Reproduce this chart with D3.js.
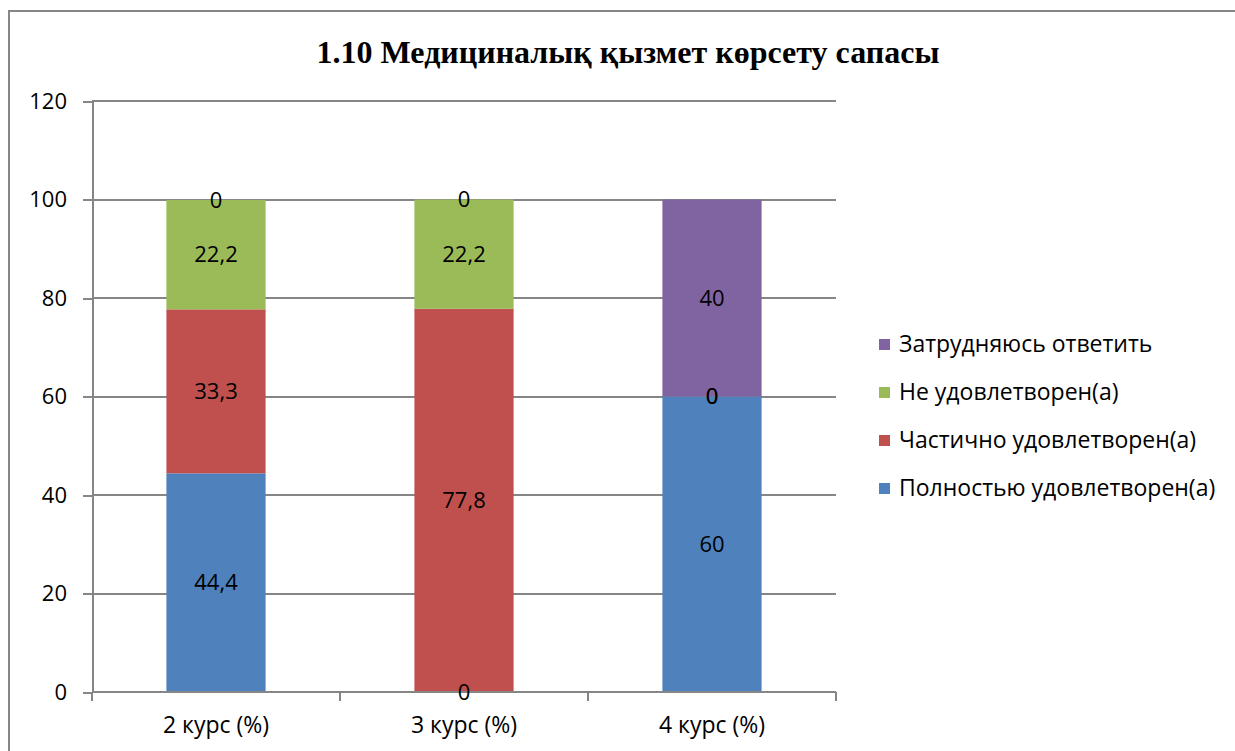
<!DOCTYPE html>
<html>
<head>
<meta charset="utf-8">
<title>1.10 Медициналық қызмет көрсету сапасы</title>
<style>
html, body {
  margin: 0;
  padding: 0;
  background: #fff;
}
.grid line, .axis line, .axis path {
  stroke: #868686;
  stroke-width: 2px;
  shape-rendering: crispEdges;
}
text {
  font-family: 'Open Sans', sans-serif;
  fill: #000;
}
.title {
  font-family: 'Liberation Serif', 'Times New Roman', serif;
  font-weight: bold;
}
</style>
<script src="https://d3js.org/d3.v7.min.js"></script>
</head>
<body>
<svg width="1235" height="751"></svg>
<script>

var categories = ["2 курс (%)", "3 курс (%)", "4 курс (%)"];
var seriesNames = ["Полностью удовлетворен(а)", "Частично удовлетворен(а)", "Не удовлетворен(а)", "Затрудняюсь ответить"];
var seriesColors = ["#4f81bd", "#c0504d", "#9bbb59", "#8064a2"];
var fullySatisfied = [44.4, 0, 60];
var partlySatisfied = [33.3, 77.8, 0];
var notSatisfied = [22.2, 22.2, 0];
var hardToSay = [0, 0, 40];
var yTicks = [0, 20, 40, 60, 80, 100, 120];

var svg = d3.select("svg"),
    width = +svg.attr("width"),
    height = +svg.attr("height");

var margin = {left: 92, right: 836, top: 101, bottom: 692};

// chart frame (runs off the right and bottom edges)
svg.append("rect")
    .attr("x", 9).attr("y", 11)
    .attr("width", 1300).attr("height", 800)
    .attr("fill", "none")
    .attr("stroke", "#868686")
    .attr("stroke-width", 2);

svg.append("text")
    .attr("class", "title")
    .attr("x", 628).attr("y", 63)
    .attr("text-anchor", "middle")
    .style("font-size", "32px")
    .text("1.10 Медициналық қызмет көрсету сапасы");

var rows = categories.map(function(c, i) {
  return {cat: c, s0: fullySatisfied[i], s1: partlySatisfied[i], s2: notSatisfied[i], s3: hardToSay[i]};
});

var stack = d3.stack().keys(["s0", "s1", "s2", "s3"]);
var layers = stack(rows);

var x = d3.scaleBand()
    .domain(categories)
    .range([margin.left, margin.right])
    .paddingInner(0.6)
    .paddingOuter(0.3);

var y = d3.scaleLinear()
    .domain([0, 120])
    .range([margin.bottom, margin.top]);

// gridlines
svg.append("g")
    .attr("class", "grid")
    .selectAll("line")
    .data(yTicks.slice(1))
    .enter().append("line")
      .attr("x1", margin.left).attr("x2", margin.right)
      .attr("y1", function(d) { return y(d); })
      .attr("y2", function(d) { return y(d); });

// y axis
var yAxis = svg.append("g")
    .attr("class", "axis")
    .attr("transform", "translate(" + margin.left + ",0)")
    .call(d3.axisLeft(y).tickValues(yTicks).tickSize(9).tickPadding(16).tickSizeOuter(0));
yAxis.selectAll("text").style("font-size", "22px");

// bars
var groups = svg.selectAll(".layer")
    .data(layers)
    .enter().append("g")
      .attr("class", "layer")
      .attr("fill", function(d, i) { return seriesColors[i]; });

groups.selectAll("rect")
    .data(function(d) { return d; })
    .enter().append("rect")
      .attr("x", function(d) { return x(d.data.cat); })
      .attr("width", x.bandwidth())
      .attr("y", function(d) { return y(d[1]); })
      .attr("height", function(d) { return y(d[0]) - y(d[1]); });

// x axis
var xAxisG = svg.append("g")
    .attr("class", "axis")
    .attr("transform", "translate(0," + margin.bottom + ")");
xAxisG.append("line")
    .attr("x1", margin.left).attr("x2", margin.right);
var step = x.step();
xAxisG.selectAll(".tk")
    .data(d3.range(categories.length + 1))
    .enter().append("line")
      .attr("class", "tk")
      .attr("x1", function(i) { return margin.left + i * step; })
      .attr("x2", function(i) { return margin.left + i * step; })
      .attr("y1", 0).attr("y2", 9);
xAxisG.selectAll(".cat")
    .data(categories)
    .enter().append("text")
      .attr("class", "cat")
      .attr("x", function(d) { return x(d) + x.bandwidth() / 2; })
      .attr("y", 41)
      .attr("text-anchor", "middle")
      .style("font-size", "23px")
      .text(function(d) { return d; });

// data labels
var labels = svg.append("g");
layers.forEach(function(layer) {
  layer.forEach(function(d) {
    var v = d[1] - d[0];
    labels.append("text")
        .attr("x", x(d.data.cat) + x.bandwidth() / 2)
        .attr("y", y((d[0] + d[1]) / 2))
        .attr("dy", "0.35em")
        .attr("text-anchor", "middle")
        .style("font-size", "22px")
        .text(String(Math.round(v * 10) / 10).replace(".", ","));
  });
});

// legend, top entry is the last series
var legend = svg.append("g");
var order = d3.range(seriesNames.length).reverse();
order.forEach(function(si, k) {
  var ly = 344 + k * 48;
  legend.append("rect")
      .attr("x", 879).attr("y", ly - 5)
      .attr("width", 11).attr("height", 11)
      .attr("fill", seriesColors[si]);
  legend.append("text")
      .attr("x", 899).attr("y", ly)
      .attr("dy", "0.35em")
      .style("font-size", "23px")
      .text(seriesNames[si]);
});

</script>
</body>
</html>
